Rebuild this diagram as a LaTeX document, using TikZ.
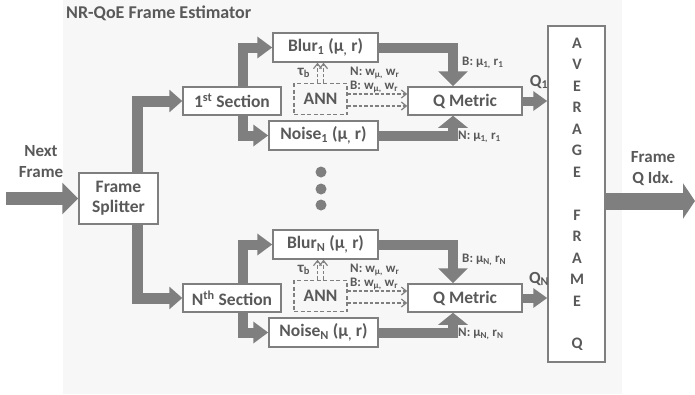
\documentclass[tikz,border=0pt]{standalone}
\usepackage{fontspec}
\setmainfont{Carlito}
\usetikzlibrary{arrows.meta}
\definecolor{arr}{HTML}{7F7F7F}
\definecolor{txt}{HTML}{595959}
\definecolor{bgc}{HTML}{F7F7F7}
\tikzset{
  box/.style={draw=arr, line width=1.5pt, fill=white, inner sep=0pt, text=txt, font=\bfseries\fontsize{17.5}{20}\selectfont},
  annbox/.style={draw=arr, line width=1.3pt, dashed, dash pattern=on 4pt off 2.5pt, inner sep=0pt, text=txt, font=\bfseries\fontsize{17.5}{20}\selectfont},
  fat/.style n args={3}{draw=arr, line width=#1, line join=miter, -{Triangle[width=#2,length=#3]}},
  dasharr/.style={draw=arr, line width=1.2pt, dash pattern=on 3.5pt off 2pt, -{Straight Barb[open,length=5pt,width=8pt]}},
  lbl/.style={text=txt, font=\bfseries\fontsize{13}{15}\selectfont, inner sep=0pt},
  big/.style={text=txt, font=\bfseries\fontsize{17}{21}\selectfont, inner sep=0pt, align=center},
}
\begin{document}
\begin{tikzpicture}[x=1pt,y=-1pt]
\useasboundingbox (0,0) rectangle (695,394);
\fill[bgc] (63,0) rectangle (622,394);
\node[big, anchor=west, font=\bfseries\fontsize{18}{21}\selectfont] (title) at (66,13) {NR-QoE Frame Estimator};

% main boxes
\node[box, minimum width=79pt, minimum height=51pt, align=center] (split) at (118.5,198.5) {Frame\\Splitter};
\node[box, minimum width=98pt, minimum height=28pt] (sec1) at (232,101) {1\textsuperscript{st} Section};
\node[box, minimum width=98pt, minimum height=28pt] (secN) at (232,298) {N\textsuperscript{th} Section};
\node[box, minimum width=57pt, minimum height=336pt] (avg) at (576.5,194) {};

% section 1
\node[box, minimum width=105pt, minimum height=29pt] (blur1) at (325.5,47.5) {Blur\textsubscript{1} (μ\textsubscript{,} r)};
\node[box, minimum width=109pt, minimum height=29pt] (noise1) at (323.5,135.5) {Noise\textsubscript{1} (μ\textsubscript{,} r)};
\node[annbox, minimum width=53pt, minimum height=31pt] (ann1) at (320.5,99) {ANN};
\node[box, minimum width=114pt, minimum height=28pt] (qm1) at (465,101) {Q Metric};

% section N
\node[box, minimum width=105pt, minimum height=29pt] (blurN) at (325.5,244.5) {Blur\textsubscript{N} (μ\textsubscript{,} r)};
\node[box, minimum width=109pt, minimum height=29pt] (noiseN) at (323.5,332.5) {Noise\textsubscript{N} (μ\textsubscript{,} r)};
\node[annbox, minimum width=53pt, minimum height=31pt] (annN) at (320.5,296) {ANN};
\node[box, minimum width=114pt, minimum height=28pt] (qmN) at (465,298) {Q Metric};

% dots
\fill[arr] (321,172) circle (5.5pt);
\fill[arr] (321,189) circle (5.5pt);
\fill[arr] (321,205) circle (5.5pt);

% AVERAGE FRAME Q letters
\foreach \ch [count=\i from 0] in {A,V,E,R,A,G,E,{},F,R,A,M,E,{},Q}
  \node[big, font=\bfseries\fontsize{16}{19}\selectfont] (avgl\i) at (577,43+21.5*\i) {\ch};

% outside labels
\node[big] (next) at (41,162) {Next\\Frame};
\node[big] (fq) at (653,169) {Frame\\Q Idx.};

% thick arrows
\coordinate (inS) at (6,198.5);
\coordinate (outE) at (695,201);
\draw[fat={13pt}{31pt}{16pt}] (inS) -- (split.west);
\draw[fat={11pt}{22pt}{13pt}] ([xshift=18.5pt]split.north) |- (sec1.west);
\draw[fat={11pt}{22pt}{13pt}] ([xshift=18.5pt]split.south) |- (secN.west);
\draw[fat={17pt}{35pt}{12pt}] (avg.east |- outE) -- (outE);

\foreach \s in {1,N}{
  \draw[fat={10pt}{21pt}{15pt}] ([xshift=11pt]sec\s.north) |- (blur\s.west);
  \draw[fat={10pt}{21pt}{15pt}] ([xshift=11pt]sec\s.south) |- (noise\s.west);
  \draw[fat={10pt}{29pt}{15pt}] (blur\s.east) -| ([xshift=-12pt]qm\s.north);
  \draw[fat={10pt}{29pt}{12pt}] (noise\s.east) -| ([xshift=-12pt]qm\s.south);
  \draw[fat={9pt}{19pt}{14pt}] (qm\s.east) -- (qm\s.east -| avg.west);
  \draw[dasharr] ([xshift=-3pt]ann\s.north) -- ([xshift=-3pt]ann\s.north |- blur\s.south);
  \draw[dasharr] ([xshift=3pt]ann\s.north) -- ([xshift=3pt]ann\s.north |- blur\s.south);
  \draw[dasharr] ([yshift=5pt]ann\s.east) -- ([yshift=5pt]ann\s.east -| qm\s.west);
  \draw[dasharr] ([yshift=-7pt]ann\s.east) -- ([yshift=-7pt]ann\s.east -| qm\s.west);
}

% small labels section 1
\node[lbl, font=\bfseries\fontsize{15}{17}\selectfont] (tau1) at (304,73) {τ\textsubscript{b}};
\node[lbl, anchor=west] (nw1) at (350,73) {N: w\textsubscript{μ,} w\textsubscript{r}};
\node[lbl, anchor=west] (bw1) at (350,87) {B: w\textsubscript{μ,} w\textsubscript{r}};
\node[lbl, anchor=west] (bm1) at (462,63) {B: μ\textsubscript{1,} r\textsubscript{1}};
\node[lbl, anchor=west] (nm1) at (458,137) {N: μ\textsubscript{1,} r\textsubscript{1}};
\node[big] (q1) at (539,82) {Q\textsubscript{1}};

% small labels section N
\node[lbl, font=\bfseries\fontsize{15}{17}\selectfont] (tauN) at (304,270) {τ\textsubscript{b}};
\node[lbl, anchor=west] (nwN) at (350,270) {N: w\textsubscript{μ,} w\textsubscript{r}};
\node[lbl, anchor=west] (bwN) at (350,284) {B: w\textsubscript{μ,} w\textsubscript{r}};
\node[lbl, anchor=west] (bmN) at (462,260) {B: μ\textsubscript{N,} r\textsubscript{N}};
\node[lbl, anchor=west] (nmN) at (458,334) {N: μ\textsubscript{N,} r\textsubscript{N}};
\node[big] (qN) at (539,279) {Q\textsubscript{N}};
\end{tikzpicture}
\end{document}
